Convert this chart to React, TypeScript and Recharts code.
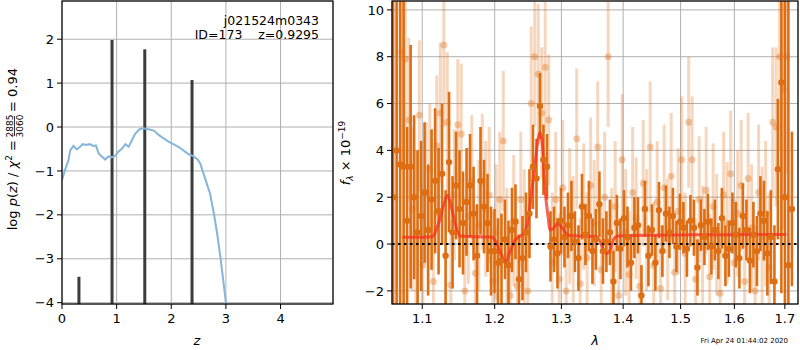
import React from 'react'
import {
  ComposedChart,
  Line,
  Scatter,
  ErrorBar,
  XAxis,
  YAxis,
  CartesianGrid,
  ReferenceLine,
} from 'recharts'

// left panel: log p(z) against redshift
const zGrid = [0, 0.055, 0.12, 0.15, 0.21, 0.27, 0.33, 0.38, 0.44, 0.51, 0.57, 0.62, 0.67, 0.73, 0.79, 0.85, 0.91, 0.97, 1.03, 1.1, 1.16, 1.22, 1.28, 1.34, 1.42, 1.49, 1.58, 1.68, 1.77, 1.86, 1.95, 2.04, 2.13, 2.23, 2.32, 2.41, 2.48, 2.53, 2.59, 2.65, 2.71, 2.78, 2.84, 2.9, 2.96, 3.0, 3.02]
const logPz = [-1.21, -0.98, -0.75, -0.53, -0.43, -0.51, -0.45, -0.39, -0.41, -0.39, -0.43, -0.42, -0.6, -0.67, -0.74, -0.67, -0.69, -0.66, -0.56, -0.49, -0.39, -0.45, -0.3, -0.15, -0.05, -0.03, -0.05, -0.08, -0.18, -0.26, -0.33, -0.39, -0.45, -0.54, -0.62, -0.67, -0.74, -0.83, -1.06, -1.29, -1.52, -1.97, -2.43, -2.97, -3.58, -4.0, -4.3]
const peakZ = [0.31, 0.916, 1.515, 2.38]
const peakLogP = [-3.41, 1.98, 1.77, 1.07]
const zTicks = [0, 1, 2, 3, 4]
const pzTicks = [-4, -3, -2, -1, 0, 1, 2]

// right panel: spectrum, two grism orientations + model
const darkWave = [1.0622, 1.0667, 1.0712, 1.0757, 1.0802, 1.0848, 1.0893, 1.0939, 1.0985, 1.1031, 1.1078, 1.1124, 1.1171, 1.1218, 1.1265, 1.1313, 1.136, 1.1408, 1.1456, 1.1504, 1.1552, 1.1601, 1.165, 1.1699, 1.1748, 1.1797, 1.1847, 1.1897, 1.1947, 1.1997, 1.2047, 1.2098, 1.2149, 1.22, 1.2251, 1.2303, 1.2355, 1.2407, 1.2459, 1.2511, 1.2564, 1.2617, 1.267, 1.2723, 1.2777, 1.2831, 1.2885, 1.2939, 1.2993, 1.3048, 1.3103, 1.3158, 1.3213, 1.3269, 1.3325, 1.3381, 1.3437, 1.3494, 1.355, 1.3607, 1.3665, 1.3722, 1.378, 1.3838, 1.3896, 1.3955, 1.4014, 1.4073, 1.4132, 1.4191, 1.4251, 1.4311, 1.4371, 1.4432, 1.4492, 1.4553, 1.4615, 1.4676, 1.4738, 1.48, 1.4862, 1.4925, 1.4988, 1.5051, 1.5114, 1.5178, 1.5242, 1.5306, 1.537, 1.5435, 1.55, 1.5565, 1.563, 1.5696, 1.5762, 1.5829, 1.5895, 1.5962, 1.6029, 1.6097, 1.6165, 1.6233, 1.6301, 1.637, 1.6439, 1.6508, 1.6577, 1.6647, 1.6717, 1.6788, 1.6858, 1.6929, 1.7001, 1.7072, 1.7144]
const darkFlux = [2.0, 4.0, 3.4, 3.3, 1.0, 3.3, 2.0, 0.5, 1.2, 2.2, 0.6, 1.9, 2.7, 1.4, 3.0, -0.5, 3.5, 0.5, 2.5, 1.5, 0.9, 1.8, 2.5, 1.3, -0.5, 2.7, 1.6, 0.9, -0.3, -0.3, -0.8, -0.7, 0.2, -0.9, 0.6, 0.95, -1.5, -0.6, 0.5, 1.3, 3.3, 2.8, 5.9, 3.6, 3.3, -0.1, 0.2, -0.4, 1.0, 0.3, 0.8, 1.2, 0.1, -0.6, 1.6, 0.4, 1.2, -0.3, 0.2, 1.7, -0.3, 0.1, 0.5, -1.6, 0.9, -0.2, 1.1, 0.3, -0.8, 0.7, 0.8, -2.2, 1.5, -0.5, 0.6, -0.8, 1.45, -0.3, 1.3, 0.5, 1.2, -0.1, 0.95, 0.7, -0.2, 1.0, 0.7, -1.0, 0.8, 0.3, 0.95, -0.1, 0.6, -0.3, 1.1, -0.5, -0.2, 0.9, 0.4, -0.6, 1.2, 0.6, -0.7, 0.4, -0.3, 1.3, 1.0, -0.4, 0.3, -1.6, 3.2, 6.9, 2.0, -0.9, 1.5]
const darkErr = [12, 10, 7.5, 8, 4, 5.2, 3.5, 3.5, 3.2, 3.0, 2.8, 3.0, 3.1, 2.7, 3.0, 2.8, 3.0, 2.4, 2.3, 2.5, 2.2, 2.3, 2.2, 2.0, 2.2, 2.3, 2.0, 2.1, 1.9, 1.8, 1.9, 2.0, 1.7, 1.9, 1.8, 1.6, 1.9, 1.8, 1.7, 1.9, 1.8, 1.7, 1.4, 1.5, 1.4, 1.5, 1.4, 1.5, 1.4, 1.3, 1.4, 1.5, 1.3, 1.4, 1.4, 1.3, 1.5, 1.4, 1.3, 1.4, 1.4, 1.3, 1.4, 1.3, 1.2, 1.3, 1.2, 1.3, 1.2, 1.3, 1.2, 1.3, 1.2, 1.3, 1.1, 1.2, 1.2, 1.1, 1.2, 1.1, 1.2, 1.1, 1.2, 1.1, 1.2, 1.1, 1.2, 1.2, 1.1, 1.2, 1.2, 1.2, 1.3, 1.2, 1.3, 1.3, 1.2, 1.3, 1.4, 1.3, 1.4, 1.3, 1.4, 1.4, 1.5, 1.6, 1.7, 1.8, 2.0, 2.4, 3.0, 9, 12, 12, 3.3]
const lightWave = [1.0734, 1.0779, 1.0824, 1.087, 1.0916, 1.0962, 1.1008, 1.1054, 1.1101, 1.1148, 1.1194, 1.1242, 1.1289, 1.1336, 1.1384, 1.1432, 1.148, 1.1528, 1.1577, 1.1626, 1.1675, 1.1724, 1.1773, 1.1822, 1.1872, 1.1922, 1.1972, 1.2022, 1.2073, 1.2124, 1.2175, 1.2226, 1.2277, 1.2329, 1.2381, 1.2433, 1.2485, 1.2537, 1.259, 1.2643, 1.2696, 1.275, 1.2804, 1.2858, 1.2912, 1.2966, 1.3021, 1.3075, 1.313, 1.3186, 1.3241, 1.3297, 1.3353, 1.3409, 1.3465, 1.3522, 1.3579, 1.3636, 1.3693, 1.3751, 1.3809, 1.3867, 1.3925, 1.3984, 1.4043, 1.4102, 1.4161, 1.4221, 1.4281, 1.4341, 1.4401, 1.4462, 1.4523, 1.4584, 1.4645, 1.4707, 1.4769, 1.4831, 1.4893, 1.4956, 1.5019, 1.5082, 1.5146, 1.5209, 1.5273, 1.5338, 1.5402, 1.5467, 1.5532, 1.5598, 1.5663, 1.5729, 1.5795, 1.5862, 1.5929, 1.5996, 1.6063, 1.6131, 1.6199, 1.6267, 1.6335, 1.6404, 1.6473, 1.6542, 1.6612, 1.6682, 1.6752, 1.6822, 1.6893, 1.6964, 1.7036]
const lightFlux = [8.2, 7.9, 5.3, 1.5, 0.5, 5.5, -0.9, 2.2, 3.2, -1.6, 4.2, 5.6, 8.5, 5.2, -1.75, 2.1, 5.1, 4.7, -2.0, 1.2, 2.7, -1.25, 0.8, 2.66, 1.5, 2.1, -1.6, 0.5, 1.9, 4.4, -0.5, -2.2, 1.0, -1.8, 1.9, 0.3, -2.0, 6.0, 8.0, 7.25, 5.6, 7.55, 5.3, -0.8, 1.9, -1.5, 2.4, -2.0, 1.2, 0.2, 4.5, -1.7, 1.6, -0.6, 2.5, 0.9, 4.15, -1.1, 2.0, 8.0, -0.3, 1.6, -2.2, 3.6, 0.5, -1.3, 2.2, 1.1, -1.8, 2.6, 0.6, 4.15, -0.9, 1.8, -1.9, 2.4, 0.2, 2.9, -1.2, 1.4, 3.6, -0.4, 5.2, 3.6, -1.5, 1.9, -0.1, 2.3, -1.4, 1.6, 0.4, -2.1, 2.1, 0.9, 3.0, -0.8, 1.3, 2.5, -1.6, 2.8, 0.7, -2.0, 2.2, 0.3, 1.3, -1.0, 5.2, 5.0, 8.0, 6.6, 8.0]
const lightErr = [5, 4.5, 3.5, 3.5, 3.5, 3.2, 3, 3, 2.8, 3, 3, 3, 3.5, 3, 2.8, 2.8, 2.8, 3, 2.8, 2.9, 2.8, 2.9, 2.8, 2.9, 2.9, 2.9, 3.0, 2.9, 2.9, 3.0, 2.9, 3.0, 2.8, 2.9, 2.9, 2.9, 2.8, 3.3, 3.0, 3.0, 2.8, 2.8, 2.8, 3.0, 2.9, 2.8, 2.9, 2.8, 2.9, 2.7, 3.0, 2.8, 2.7, 2.8, 2.9, 2.7, 2.8, 2.7, 2.8, 3.0, 2.7, 2.8, 2.7, 2.8, 2.7, 2.7, 2.8, 2.6, 2.7, 2.7, 2.6, 2.8, 2.7, 2.6, 2.7, 2.7, 2.6, 2.7, 2.6, 2.7, 2.7, 2.6, 2.8, 2.7, 2.6, 2.7, 2.6, 2.7, 2.7, 2.7, 2.6, 2.7, 2.7, 2.6, 2.7, 2.7, 2.7, 2.8, 2.7, 2.8, 2.7, 2.8, 2.9, 3.0, 3.1, 3.2, 3.2, 3.4, 4.0, 6.0, 5.0]
const modelWave = [1.074, 1.1, 1.113, 1.122, 1.129, 1.134, 1.139, 1.145, 1.151, 1.175, 1.196, 1.204, 1.21, 1.216, 1.222, 1.228, 1.235, 1.243, 1.249, 1.254, 1.259, 1.264, 1.2667, 1.2709, 1.2744, 1.2794, 1.282, 1.287, 1.294, 1.302, 1.31, 1.33, 1.354, 1.362, 1.368, 1.373, 1.379, 1.384, 1.39, 1.4, 1.45, 1.5, 1.55, 1.6, 1.65, 1.703]
const modelFlux = [0.29, 0.29, 0.31, 0.9, 1.7, 2.1, 1.6, 0.8, 0.34, 0.31, 0.3, -0.04, -0.5, -0.75, -0.35, 0.1, 0.31, 0.46, 1.03, 2.16, 3.3, 4.44, 4.75, 4.16, 2.45, 1.17, 0.6, 0.65, 0.88, 0.67, 0.38, 0.34, 0.33, 0.1, -0.3, -0.4, -0.2, 0.2, 0.33, 0.36, 0.38, 0.39, 0.4, 0.4, 0.41, 0.41]
const waveTicks = [1.1, 1.2, 1.3, 1.4, 1.5, 1.6, 1.7]
const fluxTicks = [-2, 0, 2, 4, 6, 8, 10]

const PZ_MIN = -4.03
const F_MIN = -2.56
const F_MAX = 10.38
const FONT = 'DejaVu Sans, sans-serif'
const ORANGE = '#de6e14'
const ORANGE_FAINT = 'rgba(222,110,20,0.28)'

// matplotlib style minus sign
const fmt = (v: number, digits = 0) => {
  const s = Math.abs(v).toFixed(digits)
  return v < 0 ? '\u2212' + s : s
}

// error bars aren't clipped by recharts, so trim them at the axis limits
const trimErr = (y: number, e: number) => [Math.max(0, Math.min(e, y - F_MIN)), Math.max(0, Math.min(e, F_MAX - y))]

const axisStyle = {
  tick: { fontSize: 13, fill: '#000', fontFamily: FONT },
  tickLine: { stroke: '#000' },
  axisLine: false,
  tickSize: 5,
}

function PzPanel() {
  const curve = zGrid.map((z, i) => ({ x: z, y: logPz[i] }))
  const spikes = peakZ.map((z, i) => ({ x: z, y: peakLogP[i], err: [peakLogP[i] - PZ_MIN, 0] }))
  return (
    <ComposedChart width={340} height={350} margin={{ top: 1, right: 7, bottom: 0, left: 0 }}>
      <CartesianGrid stroke="#b0b0b0" strokeWidth={1} />
      <XAxis dataKey="x" type="number" domain={[0, 4.96]} ticks={zTicks} allowDataOverflow height={46} tickMargin={5} {...axisStyle} />
      <YAxis
        dataKey="y"
        type="number"
        domain={[PZ_MIN, 2.87]}
        ticks={pzTicks}
        allowDataOverflow
        width={62}
        tickMargin={3}
        tickFormatter={(v: number) => fmt(v)}
        {...axisStyle}
      />
      <Scatter data={spikes} shape={() => <g />} isAnimationActive={false}>
        <ErrorBar dataKey="err" direction="y" width={0} stroke="#3c3c3c" strokeWidth={3} isAnimationActive={false} />
      </Scatter>
      <Line data={curve} dataKey="y" type="linear" stroke="#85b5d9" strokeWidth={2} dot={false} isAnimationActive={false} />
    </ComposedChart>
  )
}

function SpecPanel() {
  const dark = darkWave.map((w, i) => ({ x: w, y: darkFlux[i], err: trimErr(darkFlux[i], darkErr[i]) }))
  const light = lightWave.map((w, i) => ({ x: w, y: lightFlux[i], err: trimErr(lightFlux[i], lightErr[i]) }))
  const model = modelWave.map((w, i) => ({ x: w, y: modelFlux[i] }))
  return (
    <ComposedChart width={460} height={350} margin={{ top: 1, right: 2, bottom: 0, left: 0 }}>
      <CartesianGrid stroke="#b0b0b0" strokeWidth={1} />
      <XAxis
        dataKey="x"
        type="number"
        scale="log"
        domain={[1.0608, 1.727]}
        ticks={waveTicks}
        allowDataOverflow
        height={46}
        tickMargin={5}
        tickFormatter={(v: number) => v.toFixed(1)}
        {...axisStyle}
      />
      <YAxis
        dataKey="y"
        type="number"
        domain={[F_MIN, F_MAX]}
        ticks={fluxTicks}
        allowDataOverflow
        width={52}
        tickMargin={3}
        tickFormatter={(v: number) => fmt(v)}
        {...axisStyle}
      />
      <Scatter data={dark} isAnimationActive={false} shape={(p: any) => <circle cx={p.cx} cy={p.cy} r={3.2} fill={ORANGE} />}>
        <ErrorBar dataKey="err" direction="y" width={0} stroke={ORANGE} strokeWidth={2.6} isAnimationActive={false} />
      </Scatter>
      <Scatter
        data={light}
        isAnimationActive={false}
        shape={(p: any) => <circle cx={p.cx} cy={p.cy} r={3.5} fill="rgba(222,110,20,0.35)" />}
      >
        <ErrorBar dataKey="err" direction="y" width={0} stroke={ORANGE_FAINT} strokeWidth={3} isAnimationActive={false} />
      </Scatter>
      <Line
        data={model}
        dataKey="y"
        type="monotone"
        stroke="#f5301f"
        strokeOpacity={0.75}
        strokeWidth={3}
        dot={false}
        isAnimationActive={false}
      />
      <ReferenceLine y={0} stroke="#000" strokeWidth={2} strokeDasharray="2.5 3.5" />
    </ComposedChart>
  )
}

export default function App() {
  return (
    <div style={{ position: 'absolute', left: 0, top: 0, width: 800, height: 350, background: '#fff' }}>
      <div style={{ position: 'absolute', left: 0, top: 0 }}>
        <PzPanel />
      </div>
      <div style={{ position: 'absolute', left: 340, top: 0 }}>
        <SpecPanel />
      </div>
      <svg width={800} height={350} style={{ position: 'absolute', left: 0, top: 0, pointerEvents: 'none' }} fontFamily={FONT}>
        <rect x={62} y={1} width={271} height={303} fill="none" stroke="#000" strokeWidth={1.2} />
        <rect x={392} y={1} width={406} height={303} fill="none" stroke="#000" strokeWidth={1.2} />

        <text x={319} y={25} fontSize={12.5} textAnchor="end">j021524m0343</text>
        <text x={319} y={39} fontSize={12.5} textAnchor="end" style={{ whiteSpace: 'pre' }}>ID=173    z=0.9295</text>

        {/* left y label with stacked fraction */}
        <g transform="translate(17,153) rotate(-90)" fontSize={13}>
          <text x={13} y={0} textAnchor="end">
            log <tspan fontStyle="italic">p</tspan>(<tspan fontStyle="italic">z</tspan>) / <tspan fontStyle="italic">χ</tspan>
            <tspan fontSize={9} dy={-5}>2</tspan>
            <tspan dy={5}> =</tspan>
          </text>
          <text x={27} y={-4} fontSize={9} textAnchor="middle">2885</text>
          <line x1={17} x2={37} y1={-2.5} y2={-2.5} stroke="#000" strokeWidth={0.8} />
          <text x={27} y={5.5} fontSize={9} textAnchor="middle">3060</text>
          <text x={41} y={0} textAnchor="start">= 0.94</text>
        </g>

        <text x={197} y={345} fontSize={13} fontStyle="italic" textAnchor="middle">z</text>

        <g transform="translate(350,153) rotate(-90)" fontSize={13}>
          <text x={0} y={0} textAnchor="middle">
            <tspan fontStyle="italic">f</tspan>
            <tspan fontSize={9} dy={3} fontStyle="italic">λ</tspan>
            <tspan dy={-3}> × 10</tspan>
            <tspan fontSize={9} dy={-5}>−19</tspan>
          </text>
        </g>

        <text x={595} y={345} fontSize={13} fontStyle="italic" textAnchor="middle">λ</text>
        <text x={788} y={343} fontSize={7} textAnchor="end">Fri Apr 24 01:44:02 2020</text>
      </svg>
    </div>
  )
}
